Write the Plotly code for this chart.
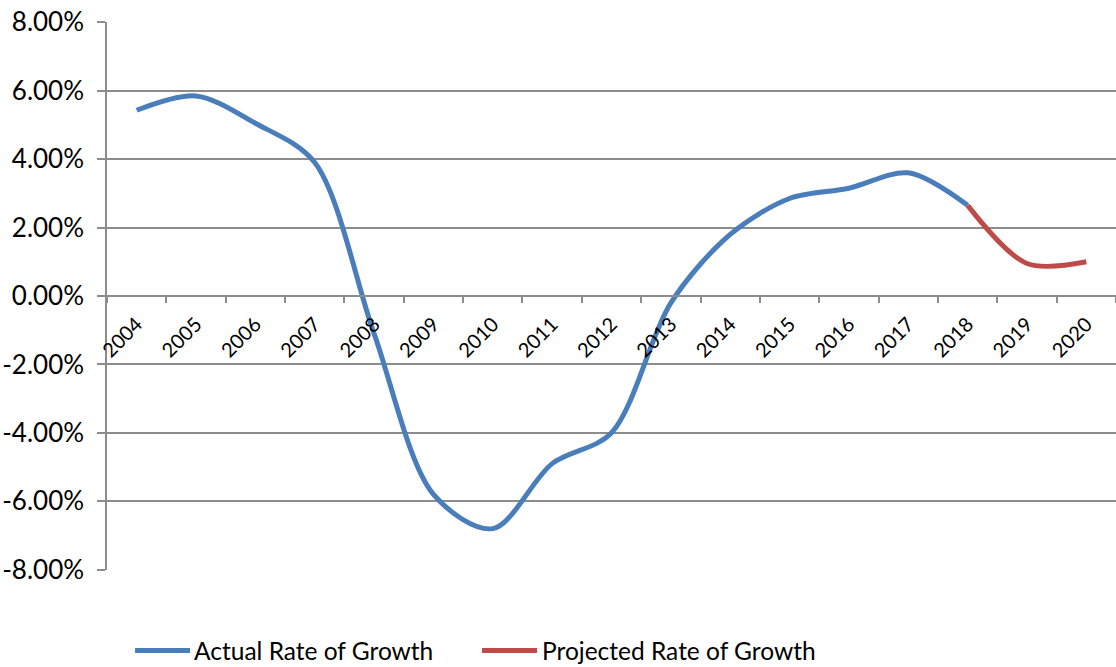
import plotly.graph_objects as go

years = [str(y) for y in range(2004, 2021)]
actual_years = years[:15]
actual_rate = [0.0543, 0.0585, 0.0505, 0.039, -0.011, -0.058, -0.068, -0.049, -0.040,
               -0.002, 0.018, 0.0285, 0.0315, 0.036, 0.0265]
proj_years = years[14:]
proj_rate = [0.0265, 0.0095, 0.0100]
ytick_vals = [-0.08, -0.06, -0.04, -0.02, 0.0, 0.02, 0.04, 0.06, 0.08]
ytick_text = ["-8.00%", "-6.00%", "-4.00%", "-2.00%", "0.00%", "2.00%", "4.00%", "6.00%", "8.00%"]
series_names = ["Actual Rate of Growth", "Projected Rate of Growth"]

FONT = "Lato"
BLUE = "#4A7EBB"
RED = "#BE4B48"
GRID = "#8C8C8C"

fig = go.Figure()
fig.add_trace(go.Scatter(x=actual_years, y=actual_rate, mode="lines", name=series_names[0],
                         showlegend=False,
                         line=dict(color=BLUE, width=5, shape="spline", smoothing=0.9)))
fig.add_trace(go.Scatter(x=proj_years, y=proj_rate, mode="lines", name=series_names[1],
                         showlegend=False,
                         line=dict(color=RED, width=5, shape="spline", smoothing=0.9)))

# Legend drawn below the plot (paper coordinates) so it does not push the margins
leg_y = -0.147
for (x0, x1, xt), color, name in zip([(0.0278, 0.0823, 0.0852), (0.3717, 0.4262, 0.4301)],
                                     [BLUE, RED], series_names):
    fig.add_shape(type="line", xref="paper", yref="paper", x0=x0, x1=x1, y0=leg_y, y1=leg_y,
                  line=dict(color=color, width=5))
    fig.add_annotation(xref="paper", yref="paper", x=xt, y=leg_y, text=name, showarrow=False,
                       xanchor="left", yanchor="middle", borderpad=0,
                       font=dict(family=FONT, size=24.5, color="black"))

fig.update_layout(
    width=1116, height=667,
    margin=dict(l=107, r=0, t=22, b=97),
    plot_bgcolor="white", paper_bgcolor="white",
    font=dict(family=FONT, size=24, color="black"),
    showlegend=False,
    xaxis=dict(type="category", categoryorder="array", categoryarray=years,
               range=[-0.5, 16.5], anchor="free", position=0.5, automargin=False,
               showline=True, linecolor=GRID, linewidth=1.5,
               ticks="outside", tickson="boundaries", ticklen=6, tickcolor=GRID, tickwidth=1.5,
               tickangle=-45, showgrid=False, zeroline=False, ticklabelstandoff=8,
               tickfont=dict(family=FONT, size=20)),
    yaxis=dict(range=[-0.0801, 0.0801], tickvals=ytick_vals, ticktext=ytick_text, automargin=False,
               showgrid=True, gridcolor=GRID, gridwidth=1.5,
               showline=True, linecolor=GRID, linewidth=1.5,
               ticks="outside", ticklen=8, tickcolor=GRID, tickwidth=1.5, ticklabelstandoff=8,
               zeroline=False, tickfont=dict(family=FONT, size=26)),
)

fig.write_html("out.html", config={"displayModeBar": False},
               post_script="document.body.style.margin='0';")
